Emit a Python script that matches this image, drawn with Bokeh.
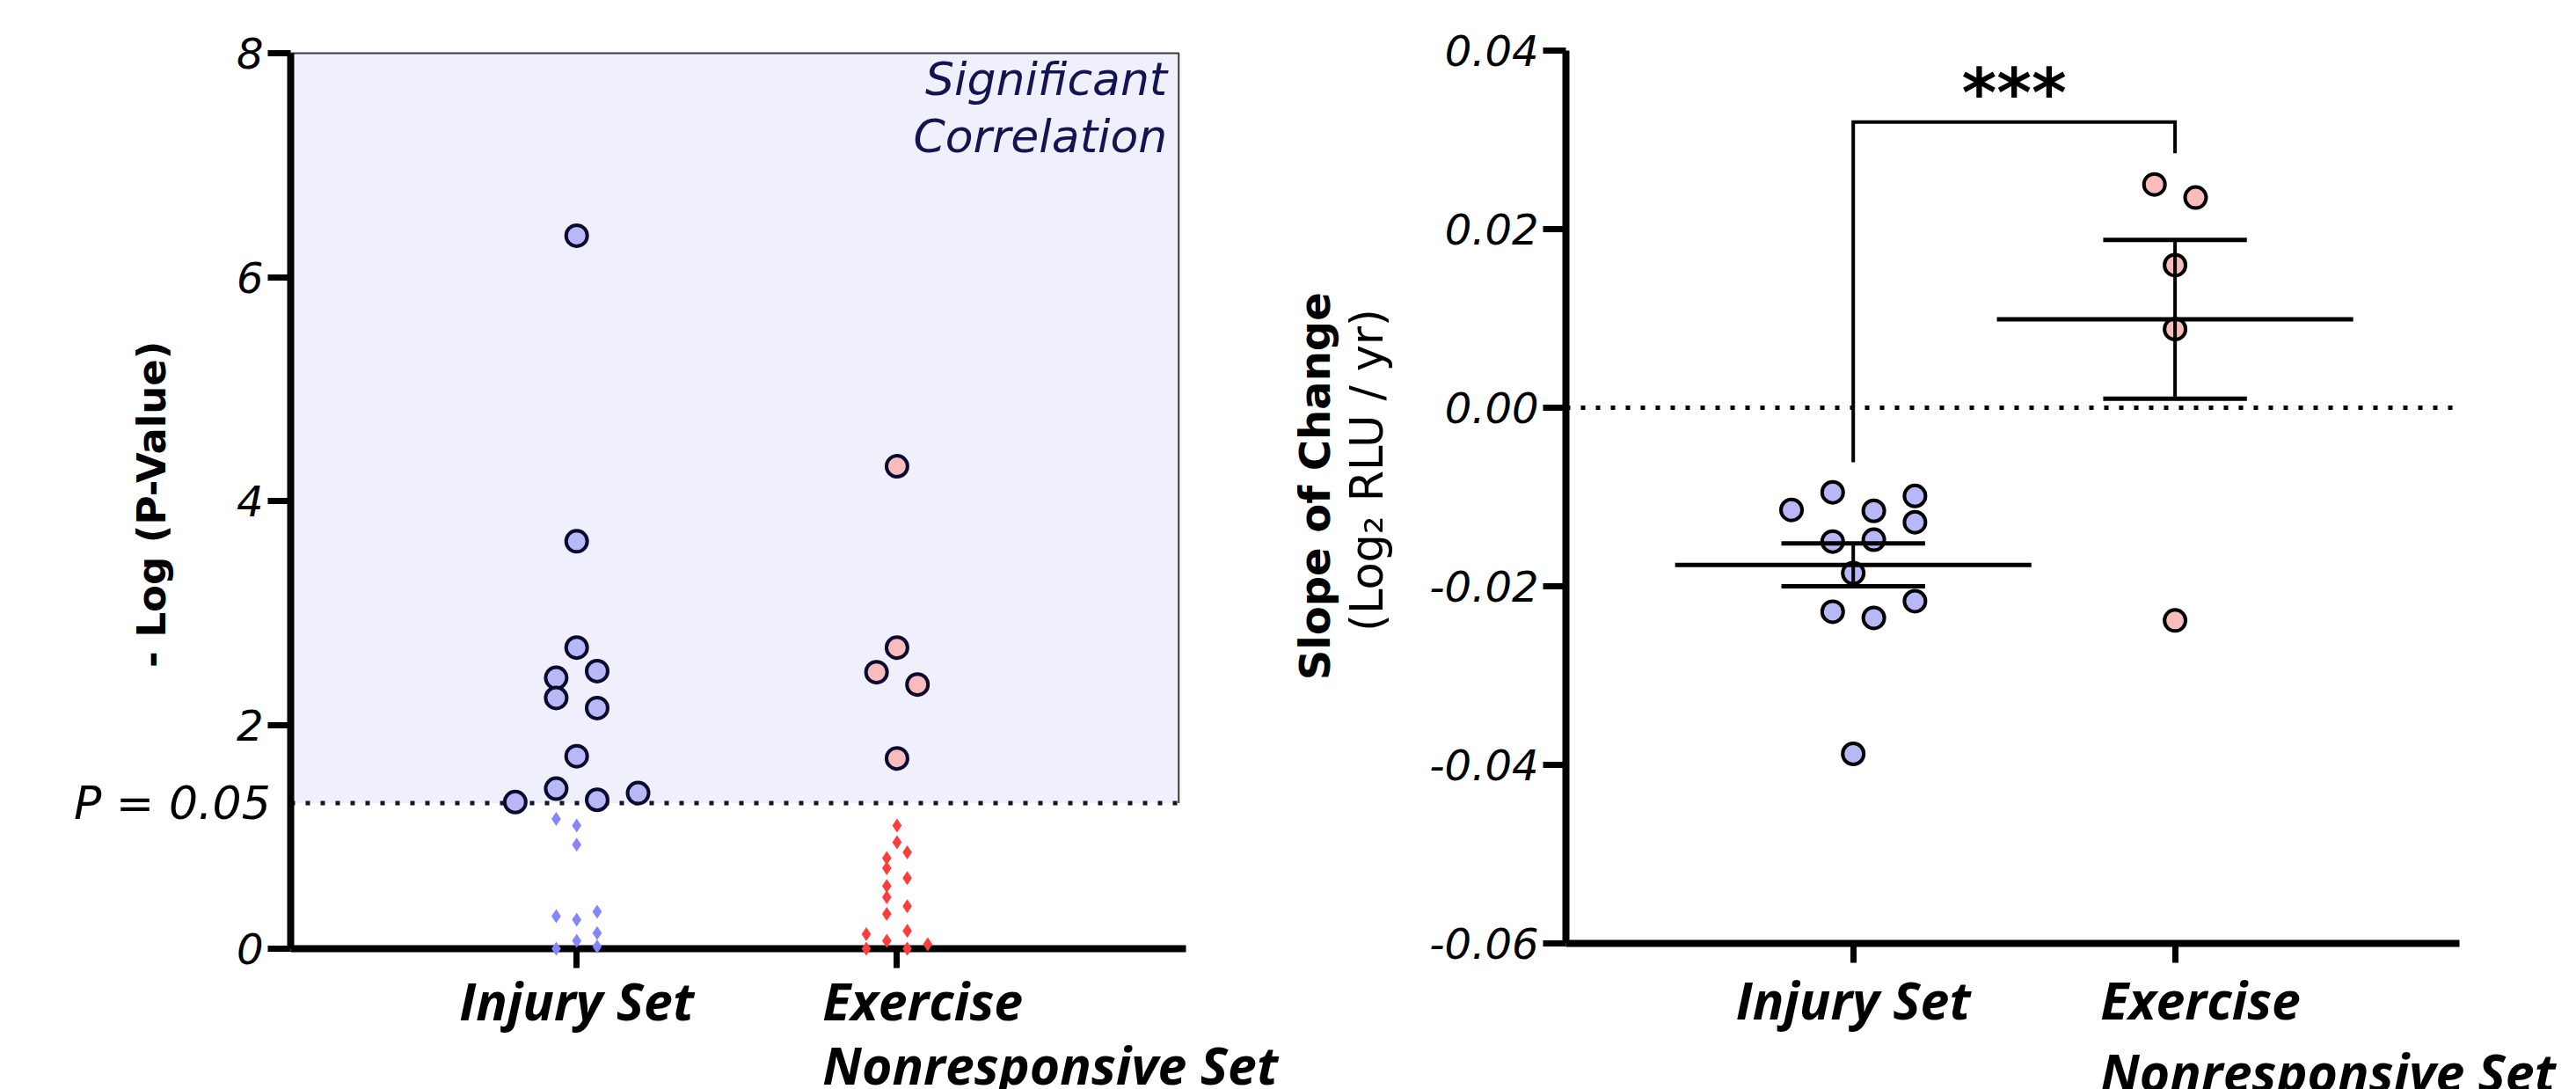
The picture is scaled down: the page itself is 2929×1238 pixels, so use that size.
from math import pi
from bokeh.plotting import figure
from bokeh.layouts import row
from bokeh.models import Label, FixedTicker, Range1d, NumeralTickFormatter
from bokeh.embed import file_html
from bokeh.resources import INLINE

# ---------------- data ----------------
categories = ["Injury Set", "Exercise", "Nonresponsive Set"]
cat_pos = [1.0, 2.12]

# Left panel: -Log(P-Value); "col" = beeswarm column index
inj_sig = [6.37, 3.64, 2.69, 2.42, 2.48, 2.24, 2.15, 1.72, 1.43, 1.39, 1.31, 1.33]
inj_sig_col = [0, 0, 0, -1, 1, -1, 1, 0, -1, 3, -3, 1]
ex_sig = [4.31, 2.69, 2.47, 2.36, 1.70]
ex_sig_col = [0, 0, -1, 1, 0]
inj_ns = [1.16, 1.10, 0.93, 0.29, 0.26, 0.33, 0.14, 0.07, 0.0, 0.02]
inj_ns_col = [-1, 0, 0, -1, 0, 1, 1, 0, -1, 1]
ex_ns = [1.10, 0.95, 0.86, 0.81, 0.72, 0.63, 0.56, 0.46, 0.38, 0.31,
         0.16, 0.13, 0.07, 0.04, 0.0, 0.0]
ex_ns_col = [0, 0, 0.5, -0.5, -0.5, 0.5, -0.5, -0.5, 0.5, -0.5,
             0.5, -1.5, -0.5, 1.5, -1.5, 0.5]
p_threshold = 1.301  # -log10(0.05)

# Right panel: slope of change
inj_slope = [-0.01145, -0.00948, -0.01155, -0.00988, -0.01283, -0.01499,
             -0.01479, -0.01853, -0.02167, -0.02285, -0.02354, -0.03877]
inj_slope_col = [-3, -1, 1, 3, 3, -1, 1, 0, 3, -1, 1, 0]
ex_slope = [0.02501, 0.02354, 0.01597, 0.00880, -0.02383]
ex_slope_col = [-1, 1, 0, 0, 0]
slope_mean = [-0.0176, 0.0099]
slope_sem = [0.0024, 0.0089]
bracket_y = [-0.0061, 0.0320, 0.0320, 0.0285]

left_ticks = [0, 2, 4, 6, 8]
right_ticks = [-0.06, -0.04, -0.02, 0.0, 0.02, 0.04]

STEP = 0.0716
BLUE = "#b8b8f7"
PINK = "#f8bcbc"
NAVY = "#141450"
H = 1238
W1 = 1456
W2 = 2929 - W1


def xs(center, cols):
    return [center + c * STEP for c in cols]


def make_fig(width, x0_px, xunit, y0_px, yunit, xb, yb):
    # frame covers whole canvas; axes drawn at fixed data locations
    p = figure(width=width, height=H, output_backend="svg", toolbar_location=None,
               x_range=Range1d(-x0_px / xunit, (width - x0_px) / xunit),
               y_range=Range1d(-(H - y0_px) / yunit, y0_px / yunit),
               min_border=0)
    if p.title is not None:
        p.title.visible = False
    p.grid.visible = False
    p.outline_line_color = None
    p.background_fill_color = "white"
    p.border_fill_color = "white"
    for ax in (p.xaxis[0], p.yaxis[0]):
        ax.axis_line_width = 8
        ax.axis_line_color = "black"
        ax.major_tick_line_width = 7
        ax.major_tick_line_color = "black"
        ax.minor_tick_line_color = None
        ax.major_tick_in = 0
        ax.major_tick_out = 26
        ax.major_label_text_font = "DejaVu Sans"
        ax.major_label_text_font_style = "italic"
        ax.major_label_text_font_size = "48px"
        ax.major_label_text_color = "black"
        ax.major_label_standoff = 5
    p.xaxis.fixed_location = yb[0]
    p.yaxis.fixed_location = xb[0]
    p.xaxis.bounds = xb
    p.yaxis.bounds = yb
    p.xaxis.major_tick_out = 22
    p.xaxis.ticker = FixedTicker(ticks=cat_pos)
    # category names are drawn as Labels below (second one is left-aligned, two lines)
    p.xaxis.major_label_text_color = None
    return p


def cat_labels(p, y1, y2):
    kw = dict(text_font="Open Sans", text_font_style="bold italic",
              text_font_size="59px", text_color="black",
              text_baseline="alphabetic")
    p.add_layout(Label(x=cat_pos[0], y=y1, text=categories[0], text_align="center", **kw))
    p.add_layout(Label(x=cat_pos[1] - 0.26, y=y1, text=categories[1], text_align="left", **kw))
    p.add_layout(Label(x=cat_pos[1] - 0.26, y=y2, text=categories[2], text_align="left", **kw))


# ---------------- left panel ----------------
p1 = make_fig(W1, 330, 325.2, 1078, 127.25, (0, 3.13), (0, 8))
p1.yaxis.ticker = FixedTicker(ticks=left_ticks)

shade_right = 3.105
p1.quad(left=0, right=shade_right, bottom=p_threshold, top=8,
        fill_color="#f0f0fc", line_color=None)
p1.line(x=[0, shade_right, shade_right], y=[8, 8, p_threshold],
        line_color="#3a3a3a", line_width=2)
p1.line(x=[0, shade_right], y=[p_threshold, p_threshold],
        line_color="#14142a", line_width=5, line_dash="5 12")

r = p1.scatter(xs(cat_pos[0], inj_ns_col), inj_ns, marker="diamond", size=16,
               fill_color="#8585ff", line_color=None)
r.level = "overlay"
r = p1.scatter(xs(cat_pos[1], ex_ns_col), ex_ns, marker="diamond", size=16,
               fill_color="#ff3d3d", line_color=None)
r.level = "overlay"

p1.scatter(xs(cat_pos[0], inj_sig_col), inj_sig, size=24, fill_color=BLUE,
           line_color="#0b0b30", line_width=4)
p1.scatter(xs(cat_pos[1], ex_sig_col), ex_sig, size=24, fill_color=PINK,
           line_color="#0b0b30", line_width=4)

sig_kw = dict(text_align="right", text_baseline="alphabetic",
              text_font="DejaVu Sans", text_font_style="italic",
              text_font_size="52px", text_color=NAVY)
p1.add_layout(Label(x=3.065, y=7.77, text="Significant", **sig_kw))
p1.add_layout(Label(x=3.065, y=7.26, text="Correlation", **sig_kw))
p1.add_layout(Label(x=-0.07, y=p_threshold, text="P = 0.05", text_align="right",
                    text_baseline="middle",
                    text_font="DejaVu Sans", text_font_style="italic",
                    text_font_size="52px", text_color="black"))
p1.add_layout(Label(x=-0.486, y=3.97, text="- Log (P-Value)", angle=pi / 2,
                    text_align="center", text_baseline="middle",
                    text_font="DejaVu Sans", text_font_style="bold",
                    text_font_size="45px", text_color="black"))
cat_labels(p1, -0.456, -1.036)

# ---------------- right panel ----------------
p2 = make_fig(W2, 1780 - W1, 326.7, 463, 10150, (0, 3.11), (-0.06, 0.04))
p2.yaxis.ticker = FixedTicker(ticks=right_ticks)
p2.yaxis.formatter = NumeralTickFormatter(format="0.00")

p2.line(x=[0, 3.11], y=[0, 0], line_color="black", line_width=5, line_dash="5 12")

p2.scatter(xs(cat_pos[0], inj_slope_col), inj_slope, size=24, fill_color=BLUE,
           line_color="black", line_width=4)
p2.scatter(xs(cat_pos[1], ex_slope_col), ex_slope, size=24, fill_color=PINK,
           line_color="black", line_width=4)

mean_half = 0.62
cap_half = 0.25
p2.segment(x0=[c - mean_half for c in cat_pos], x1=[c + mean_half for c in cat_pos],
           y0=slope_mean, y1=slope_mean, line_color="black", line_width=5)
p2.segment(x0=cat_pos, x1=cat_pos,
           y0=[m - s for m, s in zip(slope_mean, slope_sem)],
           y1=[m + s for m, s in zip(slope_mean, slope_sem)],
           line_color="black", line_width=4)
for sign in (-1, 1):
    yy = [m + sign * s for m, s in zip(slope_mean, slope_sem)]
    p2.segment(x0=[c - cap_half for c in cat_pos], x1=[c + cap_half for c in cat_pos],
               y0=yy, y1=yy, line_color="black", line_width=5)

p2.line(x=[cat_pos[0], cat_pos[0], cat_pos[1], cat_pos[1]], y=bracket_y,
        line_color="black", line_width=4, line_join="miter")
p2.add_layout(Label(x=(cat_pos[0] + cat_pos[1]) / 2, y=0.0353, text="***",
                    text_align="center", text_baseline="alphabetic",
                    text_font="DejaVu Sans", text_font_style="bold",
                    text_font_size="76px", text_color="black"))

p2.add_layout(Label(x=-0.875, y=-0.0088, text="Slope of Change", angle=pi / 2,
                    text_align="center", text_baseline="middle",
                    text_font="DejaVu Sans", text_font_style="bold",
                    text_font_size="48px", text_color="black"))
p2.add_layout(Label(x=-0.691, y=-0.0070, text="(Log\u2082 RLU / yr)", angle=pi / 2,
                    text_align="center", text_baseline="middle",
                    text_font="DejaVu Sans", text_font_style="normal",
                    text_font_size="51px", text_color="black"))
cat_labels(p2, -0.0663, -0.0743)

layout = row(p1, p2, spacing=0)
open("out.html", "w").write(file_html(layout, INLINE))
